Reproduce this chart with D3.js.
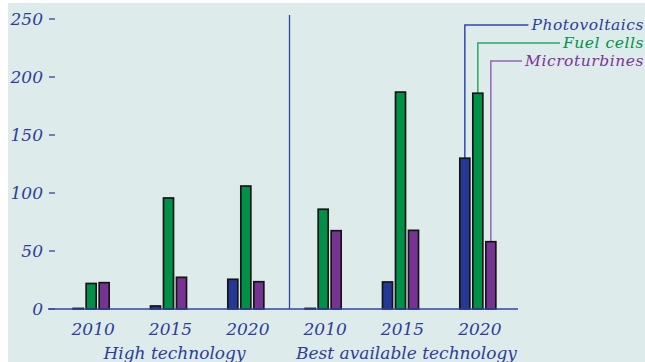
<!DOCTYPE html>
<html><head><meta charset="utf-8">
<script src="https://cdn.jsdelivr.net/npm/d3@7"></script>
<style>
html,body{margin:0;padding:0;background:#fff;}
svg{display:block;}
text{font-family:"DejaVu Serif",serif;font-style:italic;}
</style></head><body>
<svg id="c" width="645" height="362"></svg>
<script>
const groups = ["High technology", "Best available technology"];
const years = ["2010", "2015", "2020"];
const series = ["Photovoltaics", "Fuel cells", "Microturbines"];
const photovoltaics = [0.5, 2.6, 25.6, 0.5, 23.3, 130];
const fuelCells = [22, 95.7, 106, 86, 187, 186];
const microturbines = [22.7, 27.3, 23.5, 67.5, 67.8, 58];
const yTicks = [0, 50, 100, 150, 200, 250];

const values = [photovoltaics, fuelCells, microturbines];
const fills = ["#263896", "#009048", "#773393"];
const lineCols = ["#3346b0", "#2aa866", "#9566b8"];
const textCols = ["#2e3d9a", "#00934a", "#7b3596"];
const axisCol = "#3344a0";

const svg = d3.select("#c");
svg.append("rect").attr("x", 8).attr("y", 3).attr("width", 637).attr("height", 359).attr("fill", "#ddebeb");

const keys = [];
groups.forEach(g => years.forEach(y => keys.push(g + "|" + y)));

const x0 = d3.scaleBand().domain(keys).range([52.5, 516.5]);
const y = d3.scaleLinear().domain([0, 250]).range([309, 19]);

const xAxisL = 48, xAxisR = 518;

// y ticks
const yt = svg.append("g");
yTicks.forEach(t => {
  yt.append("text").attr("x", 43).attr("y", y(t)).attr("dy", "0.36em")
    .attr("text-anchor", "end").attr("font-size", 17).attr("fill", textCols[0]).text(t);
  yt.append("line").attr("x1", 49).attr("x2", 55).attr("y1", y(t)).attr("y2", y(t))
    .attr("stroke", axisCol).attr("stroke-width", 1.3);
});

// divider
const divX = x0(keys[3]) + 5;
svg.append("line").attr("x1", divX).attr("x2", divX).attr("y1", 15).attr("y2", y(0))
  .attr("stroke", axisCol).attr("stroke-width", 1.3);

const leaders = svg.append("g");

// bars
keys.forEach((k, i) => {
  const c = x0(k) + x0.bandwidth() / 2;
  const x1 = d3.scaleBand().domain(series).range([c - 18, c + 18]).paddingInner(3 / 13);
  series.forEach((s, j) => {
    const v = values[j][i];
    svg.append("rect").attr("x", x1(s)).attr("y", y(v)).attr("width", x1.bandwidth())
      .attr("height", y(0) - y(v)).attr("fill", fills[j])
      .attr("stroke", "#151515").attr("stroke-width", 1.7);
  });
});

// x axis line
svg.append("line").attr("x1", xAxisL).attr("x2", xAxisR).attr("y1", y(0)).attr("y2", y(0))
  .attr("stroke", axisCol).attr("stroke-width", 1.5);

// year labels
keys.forEach((k, i) => {
  const c = x0(k) + x0.bandwidth() / 2;
  svg.append("text").attr("x", c + 2).attr("y", 335).attr("text-anchor", "middle")
    .attr("font-size", 17).attr("fill", textCols[0]).text(years[i % 3]);
});
// group labels
groups.forEach((g, gi) => {
  const a = x0(keys[gi * 3]) + x0.bandwidth() / 2;
  const b = x0(keys[gi * 3 + 2]) + x0.bandwidth() / 2;
  svg.append("text").attr("x", (a + b) / 2 + 6).attr("y", 359).attr("text-anchor", "middle")
    .attr("font-size", 17).attr("fill", textCols[0]).text(g);
});

// series labels with leaders (from last group)
const lastK = keys[keys.length - 1];
const cL = x0(lastK) + x0.bandwidth() / 2;
const x1L = d3.scaleBand().domain(series).range([cL - 18, cL + 18]).paddingInner(3 / 13);
series.forEach((s, j) => {
  const ly = 25 + j * 18;
  const t = svg.append("text").attr("x", 644).attr("y", ly).attr("dy", "0.34em")
    .attr("text-anchor", "end").attr("font-size", 15.5).attr("letter-spacing", 0.55)
    .attr("fill", textCols[j]).text(s);
  const w = t.node().getComputedTextLength();
  const bx = x1L(s) + x1L.bandwidth() / 2;
  const v = values[j][values[j].length - 1];
  leaders.append("path")
    .attr("d", `M${bx},${y(v)}V${ly}H${644 - w - 3}`)
    .attr("fill", "none").attr("stroke", lineCols[j]).attr("stroke-width", 1.5);
});
</script>
</body></html>
